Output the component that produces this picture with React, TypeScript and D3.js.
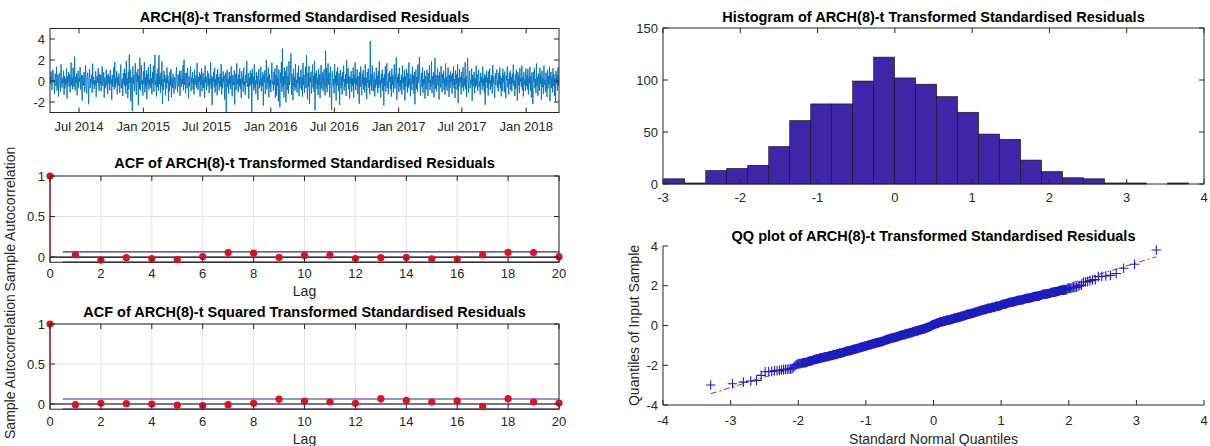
import React from "react";
import * as d3 from "d3";

const W = 1210;
const H = 446;
const FONT = "'Liberation Sans', Arial, Helvetica, sans-serif";
const AX = "#262626";
const GRID = "#e3e3e3";
const TICK_FS = 13;
const LABEL_FS = 14;
const TITLE_FS = 14.5;

// ---------- Time series of standardised residuals ----------
const START_DATE = new Date(2014, 3, 9);
const END_DATE = new Date(2018, 3, 5);
const DATE_TICKS = [
  new Date(2014, 6, 1), new Date(2015, 0, 1), new Date(2015, 6, 1), new Date(2016, 0, 1),
  new Date(2016, 6, 1), new Date(2017, 0, 1), new Date(2017, 6, 1), new Date(2018, 0, 1),
];
const TS_Y_TICKS = [-2, 0, 2, 4];
const RESIDUALS = [
  0.43,-0.27,0.91,0.18,-0.84,0.52,1.07,-0.16,0.04,-1.23, 0.69,0.34,-0.48,1.36,-0.92,-0.08,0.61,-1.47,0.25,0.77,
  -0.39,-1.02,1.58,0.13,-0.64,0.29,-0.21,0.96,-1.31,0.47, -0.73,0.22,-0.33,1.19,-1.68,0.41,-0.12,0.87,-0.54,0.63,
  -1.09,0.02,1.76,-0.42,0.31,-0.79,1.27,-0.24,-0.57,2.31,
  -0.88,0.37,-0.19,0.72,-1.36,0.11,0.98,-0.63,0.28,-0.07, 1.32,-0.81,-0.26,0.54,-1.87,0.58,0.17,-0.43,0.86,-1.04,
  0.03,1.49,-0.52,-1.18,0.32,0.79,-0.23,-2.21,0.44,1.12, -0.67,0.19,-0.13,0.62,-1.14,1.66,-0.31,0.39,-0.77,0.08,
  -0.41,0.93,-1.52,0.27,0.49,-0.18,1.21,-0.59,-0.94,0.68,
  -0.32,0.57,-0.97,0.24,1.38,-0.49,-0.06,0.83,-1.58,0.33, -0.02,-0.71,1.09,-0.37,0.51,-1.24,0.66,-0.22,0.42,-0.89,
  1.03,-0.28,0.16,-1.79,0.59,-0.53,0.09,1.28,-0.82,1.82, -0.61,0.26,-0.17,0.92,-1.29,0.38,-0.44,0.71,0.01,-1.13,
  0.48,1.57,-0.69,-0.11,0.21,-1.42,0.76,-0.29,1.17,-0.51,
  0.73,-1.21,1.91,-0.38,0.27,-1.63,0.88,-0.78,2.52,-0.19, 1.08,-1.93,0.36,-0.62,-2.85,1.41,-0.27,0.57,-0.99,0.23,
  1.69,-0.47,-1.34,0.81,-0.09,1.16,-2.31,0.53,-0.74,2.21, -0.91,0.32,1.47,-0.36,0.06,-1.39,0.94,-0.23,1.78,-1.07,
  0.37,-0.58,1.04,-1.72,0.64,-0.26,1.33,-0.83,0.12,-0.46,
  1.61,-0.68,0.28,-1.27,0.86,-0.24,1.44,-1.01,0.47,2.49, -0.36,0.07,-1.48,0.74,-0.57,1.18,-0.93,2.46,-0.29,0.43,
  -1.12,0.79,-0.49,1.87,-2.19,0.18,-0.82,0.97,-0.06,0.58, -1.37,0.26,-0.72,1.29,-0.19,0.51,-1.91,0.03,-0.98,0.88,
  -0.42,1.13,-1.57,0.22,-0.63,0.68,-0.31,-1.19,0.39,0.14,
  -0.77,0.46,1.31,-0.17,-1.08,0.62,0.04,-0.52,0.91,-1.41, 0.27,0.99,-0.58,0.19,-0.28,1.52,-0.87,2.03,-0.37,0.73,
  -1.17,0.12,0.78,-0.68,1.23,-0.13,-1.66,0.41,-0.48,0.59, 1.37,-0.96,0.31,-0.21,0.87,-0.81,0.24,-1.28,1.06,-0.39,
  -0.03,0.53,-0.62,1.71,-0.34,-0.86,0.38,-0.09,0.82,-1.49,
  0.61,-0.38,1.18,-0.97,0.13,0.77,-0.66,0.29,-1.59,1.46, -0.18,0.41,-0.86,0.02,0.97,-0.47,0.71,-1.16,0.23,-0.27,
  1.77,-0.76,0.48,-2.27,0.33,-0.07,0.89,-0.61,1.26,-1.09, 0.18,-0.41,0.63,-1.36,1.12,-0.22,0.37,-0.88,0.05,0.69,
  -0.53,1.62,-1.27,0.28,-0.69,0.92,-0.12,0.54,-1.76,0.09,
  0.79,-2.93,0.37,1.08,-0.59,0.21,-1.19,0.86,-0.32,0.48, -0.79,1.39,-0.11,-1.46,0.56,0.03,-0.39,1.01,-2.24,0.28,
  0.67,-0.87,1.68,-0.24,0.14,-1.07,0.63,-0.46,1.19,-0.72, 0.19,-1.61,0.93,-0.26,0.36,-1.03,1.26,-0.43,-0.01,-1.32,
  0.58,-0.14,1.92,-0.57,-0.16,0.76,-1.69,0.31,-0.49,0.98,
  -0.37,0.72,-2.99,1.17,-0.23,0.42,-0.88,1.59,-0.63,0.08, -1.22,0.87,-0.28,0.49,-1.81,0.24,1.13,-0.68,0.02,-0.41,
  1.36,-0.98,0.29,-0.51,0.83,-2.33,0.57,-0.13,1.02,-1.26, 0.21,2.01,-0.79,0.39,-0.18,1.28,-1.53,0.66,-0.58,0.12,
  -1.06,0.47,1.73,-0.27,-0.04,-0.91,0.88,-0.36,1.19,-1.62,
  0.57,-1.38,1.53,-0.48,0.26,-1.94,1.09,-0.73,-2.51,0.81, -0.19,1.79,-1.02,3.08,-0.56,0.43,-1.57,1.27,-0.34,0.92,
  -2.03,0.17,1.42,-0.83,0.46,-1.21,1.88,-0.37,0.06,0.97, 2.62,-1.31,0.68,-0.08,-1.83,1.16,-0.52,0.34,-0.91,1.63,
  -0.61,0.11,-1.08,0.76,-0.22,1.48,-1.44,0.38,-0.71,0.17,
  1.07,-0.86,0.32,-1.51,1.72,-0.38,0.59,-1.13,-0.02,1.34, -0.68,2.47,-0.16,-1.73,0.78,-0.54,1.43,-2.18,0.36,-0.09,
  0.87,-1.19,0.23,1.58,-0.61,0.46,-1.04,1.93,-2.79,0.72, -0.32,0.98,-0.76,0.27,-1.33,1.17,-0.42,0.62,-1.64,0.07,
  1.52,-0.73,-0.17,0.81,-0.96,0.43,1.09,-0.49,-1.37,2.88,
  -0.62,1.24,-1.07,0.37,1.68,-0.33,0.79,-1.54,0.14,1.37, -0.83,-2.76,0.57,0.96,-0.44,0.19,-1.18,1.61,-0.24,0.52,
  -1.88,0.91,-0.46,1.32,0.02,-0.97,0.73,-2.28,0.27,1.06, -0.69,0.41,-1.28,0.84,-0.06,1.46,-0.93,0.18,-0.53,0.64,
  -1.43,1.98,-0.29,0.09,1.21,-0.78,0.48,-1.67,0.33,-0.21,
  0.93,-1.03,0.26,-0.47,1.29,-1.59,0.58,-0.23,1.77,-0.87, 0.24,-0.39,1.12,-1.23,0.47,-0.12,-2.17,0.83,-0.57,1.38,
  -0.04,-1.36,0.68,-0.31,1.04,-0.84,0.36,-1.11,1.57,-0.48, 0.29,-1.71,0.86,-0.18,1.19,-0.66,0.08,-1.26,3.80,-0.43,
  0.62,-0.92,1.47,-0.07,-0.99,0.44,0.82,-1.47,0.16,-0.63,
  1.27,-0.34,0.49,-1.16,0.94,-0.67,1.89,-0.41,0.13,-1.58, 0.68,-0.22,1.09,-0.94,0.31,-2.32,0.63,-0.46,1.39,-1.01,
  0.19,1.69,-0.64,-0.02,-1.27,0.77,-0.09,0.97,-0.79,0.42, -1.49,1.18,-0.38,0.54,-1.12,0.28,1.59,-0.71,-0.17,0.91,
  2.26,-1.78,0.37,-0.28,0.69,-1.04,1.26,-0.54,0.07,-0.88,
  0.58,-1.29,1.46,-0.21,0.34,-0.82,1.03,-1.86,0.43,-0.52, 1.16,-0.06,-1.09,0.79,-0.63,1.76,-0.37,0.21,-1.46,0.67,
  0.03,-0.89,1.37,-0.26,0.52,-1.22,0.86,-2.22,0.29,1.08, -0.74,0.38,-1.02,1.57,-0.14,0.61,2.29,-0.47,-1.38,0.12,
  0.77,-0.58,1.28,-1.13,0.18,-0.32,0.96,-1.69,0.49,-0.36,
  -0.81,1.06,0.27,-1.42,0.74,-0.19,1.49,-0.87,0.09,-0.54, 1.87,-1.17,0.43,-0.27,0.82,-1.56,0.17,2.18,-0.72,0.57,
  -0.98,0.04,1.22,-0.43,0.51,-1.77,0.88,-0.13,-0.61,1.42, 0.32,-1.06,0.67,-0.19,0.99,-0.84,0.22,-1.31,1.66,-0.49,
  0.41,-0.92,0.13,1.28,-0.29,-1.52,0.59,-0.64,0.91,-0.08,
  0.52,-1.21,0.76,-0.39,1.41,-0.71,0.19,-1.63,0.99,-0.28, 0.61,-0.86,1.58,-2.11,0.29,-0.52,1.13,-0.11,0.38,-1.27,
  0.87,-0.63,0.01,1.31,-0.97,0.23,-0.42,1.79,-0.77,0.47, -1.51,0.69,2.19,-0.18,-1.12,0.41,0.98,-0.68,0.11,-0.31,
  1.18,-1.89,0.58,-0.51,0.33,0.87,-1.16,0.24,-0.59,1.46,
  -0.42,0.63,-0.96,0.28,1.07,-0.57,-0.03,-1.28,0.79,-0.17, 0.37,-0.83,1.36,-0.48,0.22,-1.09,0.68,-2.26,0.51,-0.12,
  0.96,-0.66,0.31,-1.38,0.92,-0.27,1.17,-0.86,0.06,-0.53, 0.57,-1.18,1.51,-0.23,0.43,-0.81,-1.61,0.73,-0.38,0.16,
  1.09,-0.62,0.03,-1.01,0.78,-0.33,1.29,-0.69,0.46,-1.46,
  0.26,-0.93,1.16,-0.14,0.59,-1.07,0.91,-0.37,-1.66,0.48, 0.12,1.38,-0.61,0.19,-1.29,0.76,-0.28,0.97,-0.82,0.37,
  -0.99,0.71,-0.23,1.56,-0.47,0.04,-1.42,0.63,-0.73,1.09, 0.28,-1.87,0.86,-0.41,0.53,-1.17,1.24,-0.08,0.22,-0.58,
  1.47,-0.87,0.39,-1.48,0.83,-0.32,0.14,-0.96,1.19,-0.47,
  0.56,-0.79,1.13,-1.27,0.32,-0.21,1.36,-0.91,0.47,-1.57, 0.81,-0.41,-2.20,0.89,-0.09,1.23,-0.67,0.19,-1.14,1.68,
  -0.48,0.39,-1.39,0.72,-0.03,-0.92,1.27,-0.26,0.61,-1.79, 0.99,-0.57,0.27,-1.24,1.48,-0.37,0.08,-1.03,0.79,-0.16,
  -1.52,1.07,-0.72,0.48,-0.31,1.37,-1.92,0.23,0.88,-0.64,
  0.41,-1.08,1.22,-0.47,0.67,-1.39,0.28,-1.98,0.97,-0.27, 0.59,-0.92,1.28,-0.41,0.21,
];

// ---------- ACF ----------
const ACF_Y_TICKS = [0, 0.5, 1];
const ACF_X_TICKS = [0, 2, 4, 6, 8, 10, 12, 14, 16, 18, 20];
const ACF_RESID = [1, 0.028, -0.038, -0.008, -0.018, -0.032, 0.006, 0.055, 0.048, -0.005, 0.02,
  0.022, -0.018, -0.008, -0.005, -0.022, -0.025, 0.026, 0.057, 0.056, 0.004];
const ACF_SQUARED = [1, -0.008, 0.008, 0.004, 0.0, -0.015, -0.02, -0.008, 0.008, 0.06, 0.035,
  0.025, 0.008, 0.066, 0.045, 0.025, 0.038, -0.03, 0.066, 0.025, 0.012];
const CONF_BOUND = 0.0628;

// ---------- Histogram ----------
const HIST_COUNTS = [5, 1, 13, 15, 18, 36, 61, 77, 77, 99, 122, 102, 96, 84, 69, 48, 43, 23, 12, 6, 5, 1, 1, 0, 1];
const HIST_X_TICKS = [-3, -2, -1, 0, 1, 2, 3, 4];
const HIST_Y_TICKS = [0, 50, 100, 150];

// ---------- QQ ----------
const QQ_TICKS = [-4, -3, -2, -1, 0, 1, 2, 3, 4];
const QQ_Y_TICKS = [-4, -2, 0, 2, 4];

// inverse standard normal CDF (Acklam)
function normInv(p: number): number {
  const a = [-3.969683028665376e1, 2.209460984245205e2, -2.759285104469687e2, 1.38357751867269e2, -3.066479806614716e1, 2.506628277459239];
  const b = [-5.447609879822406e1, 1.615858368580409e2, -1.556989798598866e2, 6.680131188771972e1, -1.328068155288572e1];
  const c = [-7.784894002430293e-3, -3.223964580411365e-1, -2.400758277161838, -2.549732539343734, 4.374664141464968, 2.938163982698783];
  const d = [7.784695709041462e-3, 3.224671290700398e-1, 2.445134137142996, 3.754408661907416];
  const pl = 0.02425;
  if (p < pl) {
    const q = Math.sqrt(-2 * Math.log(p));
    return (((((c[0] * q + c[1]) * q + c[2]) * q + c[3]) * q + c[4]) * q + c[5]) / ((((d[0] * q + d[1]) * q + d[2]) * q + d[3]) * q + 1);
  }
  if (p > 1 - pl) {
    const q = Math.sqrt(-2 * Math.log(1 - p));
    return -(((((c[0] * q + c[1]) * q + c[2]) * q + c[3]) * q + c[4]) * q + c[5]) / ((((d[0] * q + d[1]) * q + d[2]) * q + d[3]) * q + 1);
  }
  const q = p - 0.5;
  const r = q * q;
  return (((((a[0] * r + a[1]) * r + a[2]) * r + a[3]) * r + a[4]) * r + a[5]) * q / (((((b[0] * r + b[1]) * r + b[2]) * r + b[3]) * r + b[4]) * r + 1);
}

const TICK = 5;

function Title({ x, y, text }: { x: number; y: number; text: string }) {
  return (
    <text x={x} y={y} textAnchor="middle" dy="0.35em" fontFamily={FONT} fontSize={TITLE_FS} fontWeight="bold" fill="#000">
      {text}
    </text>
  );
}

function TimeSeries() {
  const x = d3.scaleTime().domain([START_DATE, END_DATE]).range([50, 559]);
  const y = d3.scaleLinear().domain([-3, 5]).range([112.5, 28.5]);
  const n = RESIDUALS.length;
  const t0 = +START_DATE;
  const dt = (+END_DATE - t0) / (n - 1);
  const line = d3.line<number>().x((_, i) => x(new Date(t0 + i * dt))).y((v) => y(v));
  const [x0, x1] = x.range();
  const [y0, y1] = y.range();
  const fmt = d3.timeFormat("%b %Y");
  return (
    <g>
      <defs>
        <clipPath id="tsclip"><rect x={x0} y={y1} width={x1 - x0} height={y0 - y1} /></clipPath>
      </defs>
      <path d={line(RESIDUALS) || ""} fill="none" stroke="#0072BD" strokeWidth={0.9} clipPath="url(#tsclip)" />
      <rect x={x0} y={y1} width={x1 - x0} height={y0 - y1} fill="none" stroke={AX} strokeWidth={1} />
      {TS_Y_TICKS.map((t) => (
        <g key={t}>
          <line x1={x0} x2={x0 + TICK} y1={y(t)} y2={y(t)} stroke={AX} />
          <line x1={x1} x2={x1 - TICK} y1={y(t)} y2={y(t)} stroke={AX} />
          <text x={x0 - 5} y={y(t)} dy="0.35em" textAnchor="end" fontFamily={FONT} fontSize={TICK_FS} fill={AX}>{t}</text>
        </g>
      ))}
      {DATE_TICKS.map((d) => (
        <g key={+d}>
          <line x1={x(d)} x2={x(d)} y1={y0} y2={y0 - TICK} stroke={AX} />
          <line x1={x(d)} x2={x(d)} y1={y1} y2={y1 + TICK} stroke={AX} />
          <text x={x(d)} y={y0 + 14} dy="0.35em" textAnchor="middle" fontFamily={FONT} fontSize={TICK_FS} fill={AX}>{fmt(d)}</text>
        </g>
      ))}
      <Title x={(x0 + x1) / 2} y={17} text="ARCH(8)-t Transformed Standardised Residuals" />
    </g>
  );
}

function AcfPanel({ values, top, bottom, title, titleY, labelY, lagY }: { values: number[]; top: number; bottom: number; title: string; titleY: number; labelY: number; lagY: number }) {
  const x = d3.scaleLinear().domain([0, 20]).range([50, 559]);
  const y = d3.scaleLinear().domain([-0.065, 1]).range([bottom, top]);
  const [x0, x1] = x.range();
  const red = "#e0101e";
  const blue = "#2a2ab0";
  return (
    <g>
      {ACF_X_TICKS.map((t) => (
        <line key={"gx" + t} x1={x(t)} x2={x(t)} y1={y(1)} y2={bottom} stroke={GRID} />
      ))}
      {ACF_Y_TICKS.map((t) => (
        <line key={"gy" + t} x1={x0} x2={x1} y1={y(t)} y2={y(t)} stroke={GRID} />
      ))}
      <line x1={x(0.5)} x2={x(20)} y1={y(CONF_BOUND)} y2={y(CONF_BOUND)} stroke={blue} strokeWidth={1.2} />
      <line x1={x(0.5)} x2={x(20)} y1={y(-CONF_BOUND)} y2={y(-CONF_BOUND)} stroke={blue} strokeWidth={1.2} />
      <line x1={x(0)} x2={x(20)} y1={y(0)} y2={y(0)} stroke="#000" strokeWidth={1.2} />
      <rect x={x0} y={top} width={x1 - x0} height={bottom - top} fill="none" stroke={AX} strokeWidth={1} />
      {values.map((v, i) => (
        <g key={"s" + i}>
          <line x1={x(i)} x2={x(i)} y1={y(0)} y2={y(v)} stroke={red} strokeWidth={1.2} />
          <circle cx={x(i)} cy={y(v)} r={3.6} fill={red} />
        </g>
      ))}
      {ACF_Y_TICKS.map((t) => (
        <g key={"ty" + t}>
          <line x1={x0} x2={x0 + TICK} y1={y(t)} y2={y(t)} stroke={AX} />
          <line x1={x1} x2={x1 - TICK} y1={y(t)} y2={y(t)} stroke={AX} />
          <text x={x0 - 5} y={y(t)} dy="0.35em" textAnchor="end" fontFamily={FONT} fontSize={TICK_FS} fill={AX}>{t}</text>
        </g>
      ))}
      {ACF_X_TICKS.map((t) => (
        <g key={"tx" + t}>
          <line x1={x(t)} x2={x(t)} y1={bottom} y2={bottom - TICK} stroke={AX} />
          <line x1={x(t)} x2={x(t)} y1={top} y2={top + TICK} stroke={AX} />
          <text x={x(t)} y={labelY} dy="0.35em" textAnchor="middle" fontFamily={FONT} fontSize={TICK_FS} fill={AX}>{t}</text>
        </g>
      ))}
      <text x={(x0 + x1) / 2} y={lagY} dy="0.35em" textAnchor="middle" fontFamily={FONT} fontSize={LABEL_FS} fill={AX}>Lag</text>
      <text transform={`translate(10,${(top + bottom) / 2}) rotate(-90)`} dy="0.35em" textAnchor="middle" fontFamily={FONT} fontSize={LABEL_FS} fill={AX}>Sample Autocorrelation</text>
      <Title x={(x0 + x1) / 2} y={titleY} text={title} />
    </g>
  );
}

function Histogram() {
  const x = d3.scaleLinear().domain([-3, 4]).range([663, 1204]);
  const y = d3.scaleLinear().domain([0, 150]).range([184, 28]);
  const [lo, hi] = d3.extent(RESIDUALS) as [number, number];
  const w = (hi - lo) / HIST_COUNTS.length;
  const [x0, x1] = x.range();
  const [y0, y1] = y.range();
  return (
    <g>
      {HIST_COUNTS.map((c, i) => (
        <rect key={i} x={x(lo + i * w)} y={y(c)} width={x(lo + (i + 1) * w) - x(lo + i * w)} height={y(0) - y(c)} fill="#3E26A8" stroke="#111" strokeWidth={0.6} />
      ))}
      <rect x={x0} y={y1} width={x1 - x0} height={y0 - y1} fill="none" stroke={AX} strokeWidth={1} />
      {HIST_Y_TICKS.map((t) => (
        <g key={"y" + t}>
          <line x1={x0} x2={x0 + TICK} y1={y(t)} y2={y(t)} stroke={AX} />
          <line x1={x1} x2={x1 - TICK} y1={y(t)} y2={y(t)} stroke={AX} />
          <text x={x0 - 5} y={y(t)} dy="0.35em" textAnchor="end" fontFamily={FONT} fontSize={TICK_FS} fill={AX}>{t}</text>
        </g>
      ))}
      {HIST_X_TICKS.map((t) => (
        <g key={"x" + t}>
          <line x1={x(t)} x2={x(t)} y1={y0} y2={y0 - TICK} stroke={AX} />
          <line x1={x(t)} x2={x(t)} y1={y1} y2={y1 + TICK} stroke={AX} />
          <text x={x(t)} y={y0 + 13} dy="0.35em" textAnchor="middle" fontFamily={FONT} fontSize={TICK_FS} fill={AX}>{t}</text>
        </g>
      ))}
      <Title x={(x0 + x1) / 2} y={17} text="Histogram of ARCH(8)-t Transformed Standardised Residuals" />
    </g>
  );
}

function QQPlot() {
  const x = d3.scaleLinear().domain([-4, 4]).range([663, 1204]);
  const y = d3.scaleLinear().domain([-4, 4]).range([405, 246]);
  const sorted = RESIDUALS.slice().sort(d3.ascending);
  const n = sorted.length;
  const pts = sorted.map((v, i) => [normInv((i + 0.5) / n), v]);
  const q1 = d3.quantile(sorted, 0.25) as number;
  const q3 = d3.quantile(sorted, 0.75) as number;
  const z = normInv(0.75);
  const slope = (q3 - q1) / (2 * z);
  const icpt = (q1 + q3) / 2;
  const xa = pts[0][0];
  const xb = pts[n - 1][0];
  const [x0, x1] = x.range();
  const [y0, y1] = y.range();
  const s = 4.8;
  const plus = pts.map(([a, b]) => `M${x(a) - s},${y(b)}h${2 * s}M${x(a)},${y(b) - s}v${2 * s}`).join("");
  return (
    <g>
      <line x1={x(xa)} x2={x(xb)} y1={y(icpt + slope * xa)} y2={y(icpt + slope * xb)} stroke="#e02020" strokeWidth={1} strokeDasharray="6,3,2,3" />
      <path d={plus} stroke="#1c1cc0" strokeWidth={1.1} fill="none" />
      <line x1={x0} x2={x0} y1={y1} y2={y0} stroke={AX} />
      <line x1={x0} x2={x1} y1={y0} y2={y0} stroke={AX} />
      {QQ_Y_TICKS.map((t) => (
        <g key={"y" + t}>
          <line x1={x0} x2={x0 + TICK} y1={y(t)} y2={y(t)} stroke={AX} />
          <text x={x0 - 5} y={y(t)} dy="0.35em" textAnchor="end" fontFamily={FONT} fontSize={TICK_FS} fill={AX}>{t}</text>
        </g>
      ))}
      {QQ_TICKS.map((t) => (
        <g key={"x" + t}>
          <line x1={x(t)} x2={x(t)} y1={y0} y2={y0 - TICK} stroke={AX} />
          <text x={x(t)} y={y0 + 15} dy="0.35em" textAnchor="middle" fontFamily={FONT} fontSize={TICK_FS} fill={AX}>{t}</text>
        </g>
      ))}
      <text x={(x0 + x1) / 2} y={439} dy="0.35em" textAnchor="middle" fontFamily={FONT} fontSize={LABEL_FS} fill={AX}>Standard Normal Quantiles</text>
      <text transform={`translate(634,${(y0 + y1) / 2}) rotate(-90)`} dy="0.35em" textAnchor="middle" fontFamily={FONT} fontSize={LABEL_FS} fill={AX}>Quantiles of Input Sample</text>
      <Title x={(x0 + x1) / 2} y={236} text="QQ plot of ARCH(8)-t Transformed Standardised Residuals" />
    </g>
  );
}

export default function App() {
  return (
    <svg width={W} height={H} viewBox={`0 0 ${W} ${H}`} style={{ position: "fixed", left: 0, top: 0, background: "#fff" }}>
      <rect width={W} height={H} fill="#fff" />
      <TimeSeries />
      <AcfPanel values={ACF_RESID} top={176} bottom={262.3} title="ACF of ARCH(8)-t Transformed Standardised Residuals" titleY={163} labelY={273} lagY={291} />
      <AcfPanel values={ACF_SQUARED} top={324} bottom={409.2} title="ACF of ARCH(8)-t Squared Transformed Standardised Residuals" titleY={312} labelY={421} lagY={439} />
      <Histogram />
      <QQPlot />
    </svg>
  );
}
